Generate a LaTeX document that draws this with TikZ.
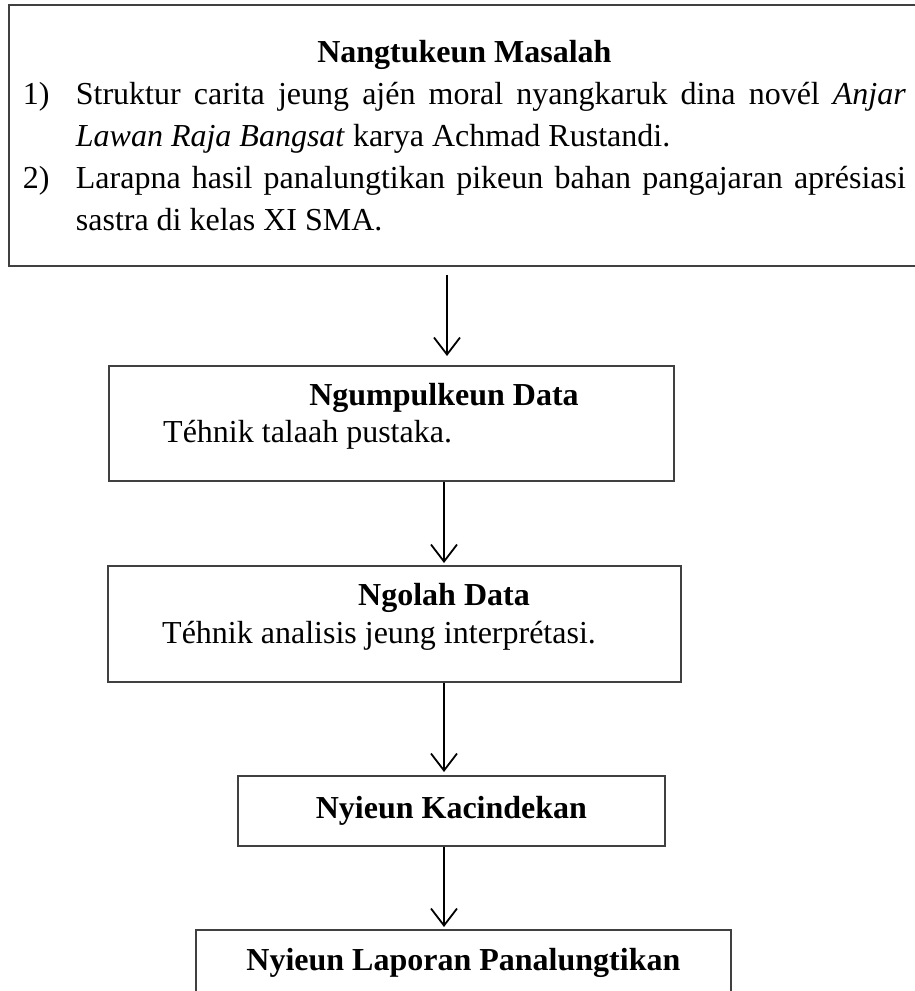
\documentclass[tikz,border=0pt]{standalone}
\usepackage{fontspec}
\setmainfont{Liberation Serif}
\usetikzlibrary{arrows.meta, positioning, calc}

\begin{document}
\begin{tikzpicture}[
    x=1pt, y=-1pt,
    box/.style={
        rectangle, draw=black!75, line width=1.8pt,
        minimum width=#1, inner sep=0pt,
        font=\fontsize{32}{42}\selectfont
    },
    ttl/.style={
        font=\fontsize{32}{42}\selectfont\bfseries, inner sep=0pt
    },
    desc/.style={
        font=\fontsize{32}{42}\selectfont, anchor=west, inner sep=0pt
    },
    arr/.style={-{Straight Barb[length=17pt, width=26pt]}, line width=1.8pt, black}
]
\useasboundingbox (0,0) rectangle (915,991);
\clip (0,0) rectangle (915,991);

% Arrow axes
\coordinate (a1) at (447,0);
\coordinate (a2) at (444,0);

% Problem box at top
\node[box=911pt, anchor=north west, minimum height=261pt,
      text width=883pt, inner xsep=14pt, align=justify]
      (masalah) at (8,4) {%
  \vspace*{-5pt}%
  \makebox[\linewidth]{\bfseries Nangtukeun Masalah}\par
  \vspace{5pt}%
  \noindent\hangindent=53pt\hangafter=1\makebox[53pt][l]{1)}Struktur carita jeung ajén moral nyangkaruk dina novél \textit{Anjar}\linebreak
  \textit{Lawan Raja Bangsat} karya Achmad Rustandi.\par
  \noindent\hangindent=53pt\hangafter=1\makebox[53pt][l]{2)}Larapna hasil panalungtikan pikeun bahan pangajaran aprésiasi\linebreak
  sastra di kelas XI SMA.\par};

% Collecting data
\node[box=565pt, minimum height=115pt, anchor=north west] (ngumpul) at (108,365) {};
\node[ttl] (ngumpulttl) at (444,398) {Ngumpulkeun Data};
\node[desc] (ngumpuldesc) at (163,435) {Téhnik talaah pustaka.};

% Processing data
\node[box=573pt, minimum height=116pt, anchor=north west] (ngolah) at (107,565) {};
\node[ttl] (ngolahttl) at (444,598) {Ngolah Data};
\node[desc] (ngolahdesc) at (162,636) {Téhnik analisis jeung interprétasi.};

% Conclusion and report
\node[box=427pt, minimum height=70pt, anchor=north west, font=\fontsize{32}{42}\selectfont\bfseries]
      (kacindekan) at (237,775) {Nyieun Kacindekan};
\node[box=535pt, minimum height=66pt, anchor=north west, font=\fontsize{32}{42}\selectfont\bfseries]
      (laporan) at (195,929) {Nyieun Laporan Panalungtikan};

% Arrows
\draw[arr, shorten <=8pt, shorten >=9pt] (masalah.south -| a1) -- (ngumpul.north -| a1);
\draw[arr, shorten >=2pt] (ngumpul.south -| a2) -- (ngolah.north -| a2);
\draw[arr, shorten >=3pt] (ngolah.south -| a2) -- (kacindekan.north -| a2);
\draw[arr, shorten >=2pt] (kacindekan.south -| a2) -- (laporan.north -| a2);

\end{tikzpicture}
\end{document}
